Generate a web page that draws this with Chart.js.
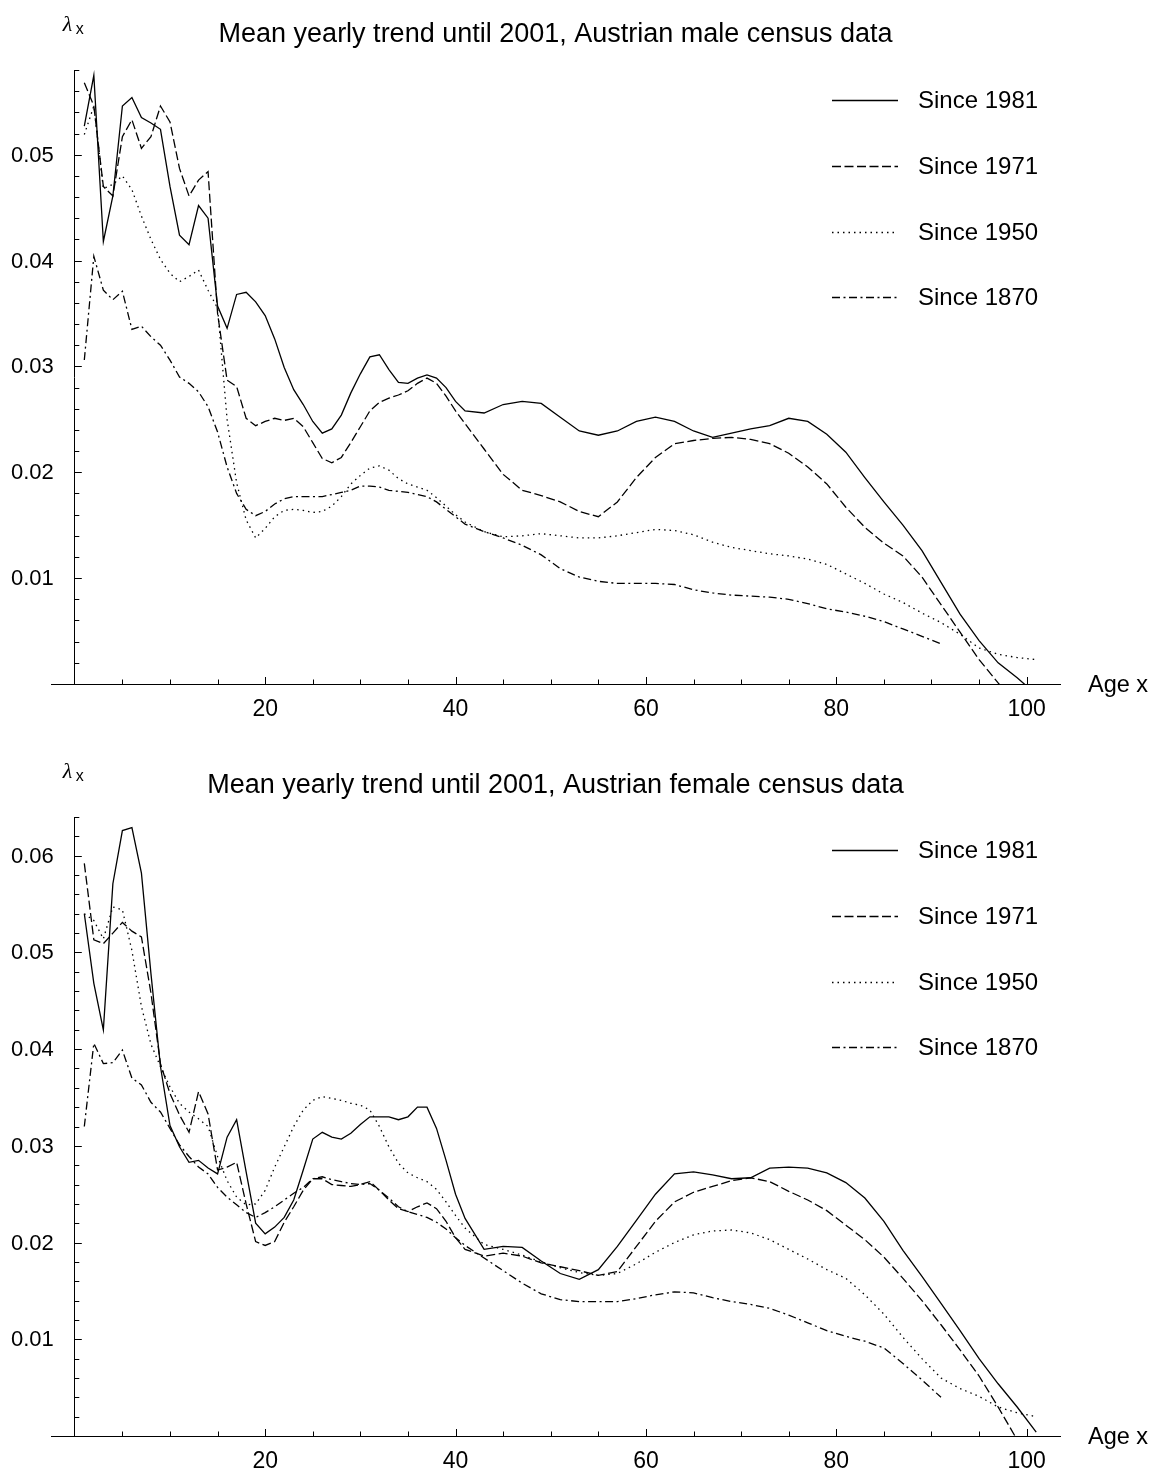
<!DOCTYPE html>
<html>
<head>
<meta charset="utf-8">
<title>Mean yearly trend until 2001</title>
<script src="https://cdn.jsdelivr.net/npm/chart.js@4.4.1/dist/chart.umd.min.js"></script>
<style>
  body { margin: 0; background: #fff; }
  .panel { position: relative; width: 1158px; }
  #malePanel { height: 740px; }
  #femalePanel { height: 733px; }
</style>
</head>
<body>
<div class="panel" id="malePanel"><canvas id="maleChart"></canvas></div>
<div class="panel" id="femalePanel"><canvas id="femaleChart"></canvas></div>
<script>
// Ages x: every year up to 40, then every second year
const ages = [
  1, 2, 3, 4, 5, 6, 7, 8, 9, 10, 11, 12, 13, 14, 15, 16, 17, 18, 19, 20,
  21, 22, 23, 24, 25, 26, 27, 28, 29, 30, 31, 32, 33, 34, 35, 36, 37, 38, 39, 40,
  41, 43, 45, 47, 49, 51, 53, 55, 57, 59, 61, 63, 65, 67, 69, 71, 73, 75, 77, 79,
  81, 83, 85, 87, 89, 91, 93, 95, 97, 99, 101,
];

const seriesLabels = ["Since 1981", "Since 1971", "Since 1950", "Since 1870"];

// Male census data, lambda_x
const male1981 = [
  0.0527, 0.0575, 0.0418, 0.0461, 0.0546, 0.0554, 0.0535, 0.0530, 0.0524, 0.0470,
  0.0424, 0.0415, 0.0452, 0.0440, 0.0357, 0.0336, 0.0368, 0.0370, 0.0361, 0.0348,
  0.0326, 0.0299, 0.0278, 0.0264, 0.0248, 0.0237, 0.0241, 0.0254, 0.0275, 0.0293,
  0.0309, 0.0311, 0.0297, 0.0285, 0.0284, 0.0289, 0.0292, 0.0289, 0.0280, 0.0267,
  0.0258, 0.0256, 0.0264, 0.0267, 0.0265, 0.0252, 0.0239, 0.0235, 0.0239, 0.0248,
  0.0252, 0.0248, 0.0239, 0.0233, 0.0237, 0.0241, 0.0244, 0.0251, 0.0248, 0.0236,
  0.0219, 0.0195, 0.0172, 0.0150, 0.0126, 0.0096, 0.0066, 0.0041, 0.0020, 0.0006,
  -0.0010,
];
const male1971 = [
  0.0568, 0.0546, 0.0470, 0.0461, 0.0517, 0.0533, 0.0506, 0.0517, 0.0546, 0.0531,
  0.0487, 0.0461, 0.0476, 0.0484, 0.0350, 0.0287, 0.0281, 0.0251, 0.0244, 0.0248,
  0.0251, 0.0249, 0.0251, 0.0243, 0.0228, 0.0213, 0.0209, 0.0214, 0.0228, 0.0243,
  0.0258, 0.0266, 0.0270, 0.0273, 0.0277, 0.0284, 0.0289, 0.0284, 0.0272, 0.0258,
  0.0246, 0.0222, 0.0198, 0.0183, 0.0178, 0.0172, 0.0163, 0.0158, 0.0172, 0.0195,
  0.0214, 0.0227, 0.0230, 0.0232, 0.0233, 0.0231, 0.0227, 0.0218, 0.0205, 0.0189,
  0.0167, 0.0148, 0.0133, 0.0121, 0.0101, 0.0075, 0.0049, 0.0023, 0.0001, -0.0020,
  -0.0040,
];
const male1950 = [
  0.0519, 0.0546, 0.0468, 0.0472, 0.0480, 0.0467, 0.0442, 0.0420, 0.0401, 0.0388,
  0.0380, 0.0385, 0.0391, 0.0372, 0.0355, 0.0250, 0.0190, 0.0155, 0.0138, 0.0147,
  0.0158, 0.0164, 0.0165, 0.0164, 0.0162, 0.0163, 0.0168, 0.0177, 0.0189, 0.0197,
  0.0204, 0.0206, 0.0202, 0.0194, 0.0189, 0.0186, 0.0183, 0.0176, 0.0168, 0.0160,
  0.0153, 0.0144, 0.0139, 0.0140, 0.0142, 0.0140, 0.0138, 0.0138, 0.0140, 0.0143,
  0.0146, 0.0145, 0.0141, 0.0134, 0.0129, 0.0126, 0.0123, 0.0121, 0.0118, 0.0113,
  0.0104, 0.0095, 0.0085, 0.0077, 0.0067, 0.0058, 0.0047, 0.0034, 0.0028, 0.0025,
  0.0023,
];
const male1870 = [
  0.0306, 0.0404, 0.0372, 0.0363, 0.0371, 0.0335, 0.0338, 0.0328, 0.0320, 0.0306,
  0.0290, 0.0284, 0.0276, 0.0262, 0.0238, 0.0205, 0.0180, 0.0165, 0.0159, 0.0163,
  0.0170, 0.0175, 0.0177, 0.0177, 0.0177, 0.0177, 0.0179, 0.0181, 0.0183, 0.0187,
  0.0187, 0.0186, 0.0183, 0.0182, 0.0181, 0.0179, 0.0177, 0.0172, 0.0165, 0.0158,
  0.0151, 0.0144, 0.0138, 0.0131, 0.0122, 0.0109, 0.0101, 0.0097, 0.0095, 0.0095,
  0.0095, 0.0094, 0.0089, 0.0086, 0.0084, 0.0083, 0.0082, 0.0080, 0.0076, 0.0071,
  0.0068, 0.0064, 0.0059, 0.0052, 0.0045, 0.0038,
];

// Female census data, lambda_x
const female1981 = [
  0.0540, 0.0468, 0.0420, 0.0571, 0.0626, 0.0629, 0.0582, 0.0478, 0.0382, 0.0321,
  0.0299, 0.0283, 0.0285, 0.0277, 0.0271, 0.0309, 0.0327, 0.0273, 0.0220, 0.0209,
  0.0216, 0.0226, 0.0244, 0.0275, 0.0307, 0.0314, 0.0309, 0.0307, 0.0313, 0.0322,
  0.0330, 0.0330, 0.0330, 0.0327, 0.0330, 0.0340, 0.0340, 0.0318, 0.0285, 0.0250,
  0.0225, 0.0193, 0.0196, 0.0195, 0.0181, 0.0168, 0.0162, 0.0172, 0.0196, 0.0223,
  0.0250, 0.0271, 0.0273, 0.0270, 0.0266, 0.0267, 0.0277, 0.0278, 0.0277, 0.0272,
  0.0262, 0.0246, 0.0222, 0.0192, 0.0165, 0.0137, 0.0109, 0.0080, 0.0054, 0.0030,
  0.0004,
];
const female1971 = [
  0.0592, 0.0513, 0.0509, 0.0520, 0.0531, 0.0522, 0.0516, 0.0458, 0.0385, 0.0354,
  0.0332, 0.0314, 0.0356, 0.0333, 0.0275, 0.0278, 0.0283, 0.0240, 0.0201, 0.0197,
  0.0201, 0.0221, 0.0237, 0.0254, 0.0266, 0.0266, 0.0260, 0.0259, 0.0258, 0.0260,
  0.0263, 0.0254, 0.0244, 0.0235, 0.0232, 0.0237, 0.0241, 0.0235, 0.0222, 0.0205,
  0.0193, 0.0186, 0.0189, 0.0186, 0.0179, 0.0175, 0.0171, 0.0166, 0.0170, 0.0196,
  0.0222, 0.0242, 0.0252, 0.0258, 0.0264, 0.0267, 0.0263, 0.0253, 0.0244, 0.0233,
  0.0218, 0.0203, 0.0185, 0.0163, 0.0140, 0.0115, 0.0089, 0.0062, 0.0030, -0.0004,
  -0.0035,
];
const female1950 = [
  0.0540, 0.0533, 0.0514, 0.0547, 0.0544, 0.0502, 0.0444, 0.0405, 0.0382, 0.0361,
  0.0344, 0.0335, 0.0328, 0.0320, 0.0289, 0.0264, 0.0247, 0.0239, 0.0240, 0.0254,
  0.0278, 0.0299, 0.0320, 0.0337, 0.0347, 0.0351, 0.0349, 0.0347, 0.0344, 0.0342,
  0.0337, 0.0320, 0.0299, 0.0282, 0.0272, 0.0267, 0.0263, 0.0255, 0.0242, 0.0228,
  0.0215, 0.0198, 0.0193, 0.0187, 0.0180, 0.0174, 0.0169, 0.0166, 0.0168, 0.0178,
  0.0190, 0.0200, 0.0208, 0.0212, 0.0213, 0.0210, 0.0203, 0.0193, 0.0183, 0.0172,
  0.0163, 0.0146, 0.0126, 0.0102, 0.0080, 0.0060, 0.0049, 0.0041, 0.0030, 0.0024,
  0.0020,
];
const female1870 = [
  0.0320, 0.0406, 0.0385, 0.0386, 0.0399, 0.0370, 0.0363, 0.0345, 0.0335, 0.0318,
  0.0301, 0.0289, 0.0278, 0.0271, 0.0257, 0.0247, 0.0239, 0.0231, 0.0226, 0.0231,
  0.0237, 0.0244, 0.0251, 0.0257, 0.0266, 0.0268, 0.0265, 0.0263, 0.0261, 0.0260,
  0.0261, 0.0254, 0.0246, 0.0237, 0.0232, 0.0229, 0.0226, 0.0221, 0.0214, 0.0205,
  0.0197, 0.0184, 0.0171, 0.0158, 0.0147, 0.0141, 0.0139, 0.0139, 0.0139, 0.0142,
  0.0146, 0.0149, 0.0148, 0.0143, 0.0139, 0.0136, 0.0132, 0.0125, 0.0117, 0.0109,
  0.0103, 0.0098, 0.0091, 0.0075, 0.0058, 0.0040,
];

// Line styles: solid, dashed, dotted, dash-dot
const dashStyles = [[], [9, 3.5], [1.5, 4], [8, 3.5, 2, 3.5]];

const FONT = '"Liberation Sans", Arial, Helvetica, sans-serif';

window.onload = () => {
  initChart("maleChart", {
    title: "Mean yearly trend until 2001, Austrian male census data",
    titleY: 42,
    legendY: 100,
    series: [male1981, male1971, male1950, male1870],
    yMax: 0.058,
    padding: { left: 51, right: 98, top: 70, bottom: 56 },
  });
  initChart("femaleChart", {
    title: "Mean yearly trend until 2001, Austrian female census data",
    titleY: 53,
    legendY: 110,
    series: [female1981, female1971, female1950, female1870],
    yMax: 0.064,
    padding: { left: 51, right: 98, top: 77, bottom: 37 },
  });
};

// Inward ticks, value labels, title, axis names and the legend
const plotDecor = {
  id: "plotDecor",
  afterDraw(chart, args, opts) {
    const { ctx, chartArea } = chart;
    const xs = chart.scales.x;
    const ys = chart.scales.y;
    const x0 = xs.getPixelForValue(0);
    const y0 = ys.getPixelForValue(0);

    ctx.save();
    ctx.strokeStyle = "#000";
    ctx.fillStyle = "#000";
    ctx.lineWidth = 1;

    ctx.beginPath();
    ys.ticks.forEach((t) => {
      if (t.value <= 0) return;
      const py = Math.round(ys.getPixelForValue(t.value)) + 0.5;
      ctx.moveTo(x0, py);
      ctx.lineTo(x0 + (t.label ? 7 : 4.5), py);
    });
    xs.ticks.forEach((t) => {
      if (t.value <= 0) return;
      const px = Math.round(xs.getPixelForValue(t.value)) + 0.5;
      ctx.moveTo(px, y0);
      ctx.lineTo(px, y0 - (t.label ? 7 : 4.5));
    });
    ctx.stroke();

    // value labels left of the lambda axis
    ctx.font = `22px ${FONT}`;
    ctx.textAlign = "right";
    ctx.textBaseline = "middle";
    ys.ticks.forEach((t) => {
      if (t.label) ctx.fillText(t.label, x0 - 21, ys.getPixelForValue(t.value) + 1);
    });

    // title over the plot
    ctx.font = `27px ${FONT}`;
    ctx.textAlign = "center";
    ctx.textBaseline = "alphabetic";
    ctx.fillText(opts.title, (chartArea.left + chartArea.right) / 2, opts.titleY);

    // lambda_x above the vertical axis
    ctx.textAlign = "left";
    ctx.font = `italic 22px "Liberation Serif", "DejaVu Serif", serif`;
    ctx.fillText("λ", x0 - 12, chartArea.top - 39);
    ctx.font = `16px ${FONT}`;
    ctx.fillText("x", x0 + 1, chartArea.top - 36);

    // axis name at the end of the age axis
    ctx.font = `23.5px ${FONT}`;
    ctx.fillText("Age x", chartArea.right + 28, y0 + 8);

    // legend
    chart.data.datasets.forEach((ds, i) => {
      const ly = Math.round(opts.legendY + i * 65.8) + 0.5;
      ctx.lineWidth = ds.borderWidth;
      ctx.setLineDash(ds.borderDash);
      ctx.beginPath();
      ctx.moveTo(chartArea.right - 228, ly);
      ctx.lineTo(chartArea.right - 162, ly);
      ctx.stroke();
      ctx.setLineDash([]);
      ctx.font = `24px ${FONT}`;
      ctx.textBaseline = "middle";
      ctx.fillText(ds.label, chartArea.right - 142, ly + 1);
    });
    ctx.restore();
  },
};

function initChart(canvasId, cfg) {
  const ctx = document.getElementById(canvasId).getContext("2d");

  const datasets = cfg.series.map((values, i) => ({
    label: seriesLabels[i],
    data: values.map((v, j) => ({ x: ages[j], y: v })),
    borderColor: "#000",
    borderWidth: 1.3,
    borderDash: dashStyles[i],
    pointRadius: 0,
    fill: false,
    tension: 0,
  }));

  new Chart(ctx, {
    type: "line",
    data: { datasets },
    options: {
      responsive: true,
      maintainAspectRatio: false,
      animation: false,
      layout: { padding: cfg.padding },
      plugins: {
        legend: { display: false },
        tooltip: { enabled: false },
        plotDecor: { title: cfg.title, titleY: cfg.titleY, legendY: cfg.legendY },
      },
      scales: {
        x: {
          type: "linear",
          position: { y: 0 },
          min: -2.5,
          max: 103.5,
          grid: { display: false, drawTicks: false },
          border: { display: true, color: "#000", width: 1 },
          ticks: {
            stepSize: 5,
            includeBounds: false,
            autoSkip: false,
            maxRotation: 0,
            padding: 12,
            color: "#000",
            font: { family: FONT, size: 23 },
            callback: (v) => (v > 0 && v % 20 === 0 ? String(v) : ""),
          },
        },
        y: {
          type: "linear",
          position: { x: 0 },
          min: 0,
          max: cfg.yMax,
          grid: { display: false, drawTicks: false },
          border: { display: true, color: "#000", width: 1 },
          ticks: {
            // labels are placed by plotDecor, away from the axis line
            display: false,
            stepSize: 0.002,
            autoSkip: false,
            callback: (v) =>
              v > 0 && Math.abs(v * 100 - Math.round(v * 100)) < 1e-6 ? v.toFixed(2) : "",
          },
        },
      },
    },
    plugins: [plotDecor],
  });
}
</script>
</body>
</html>
